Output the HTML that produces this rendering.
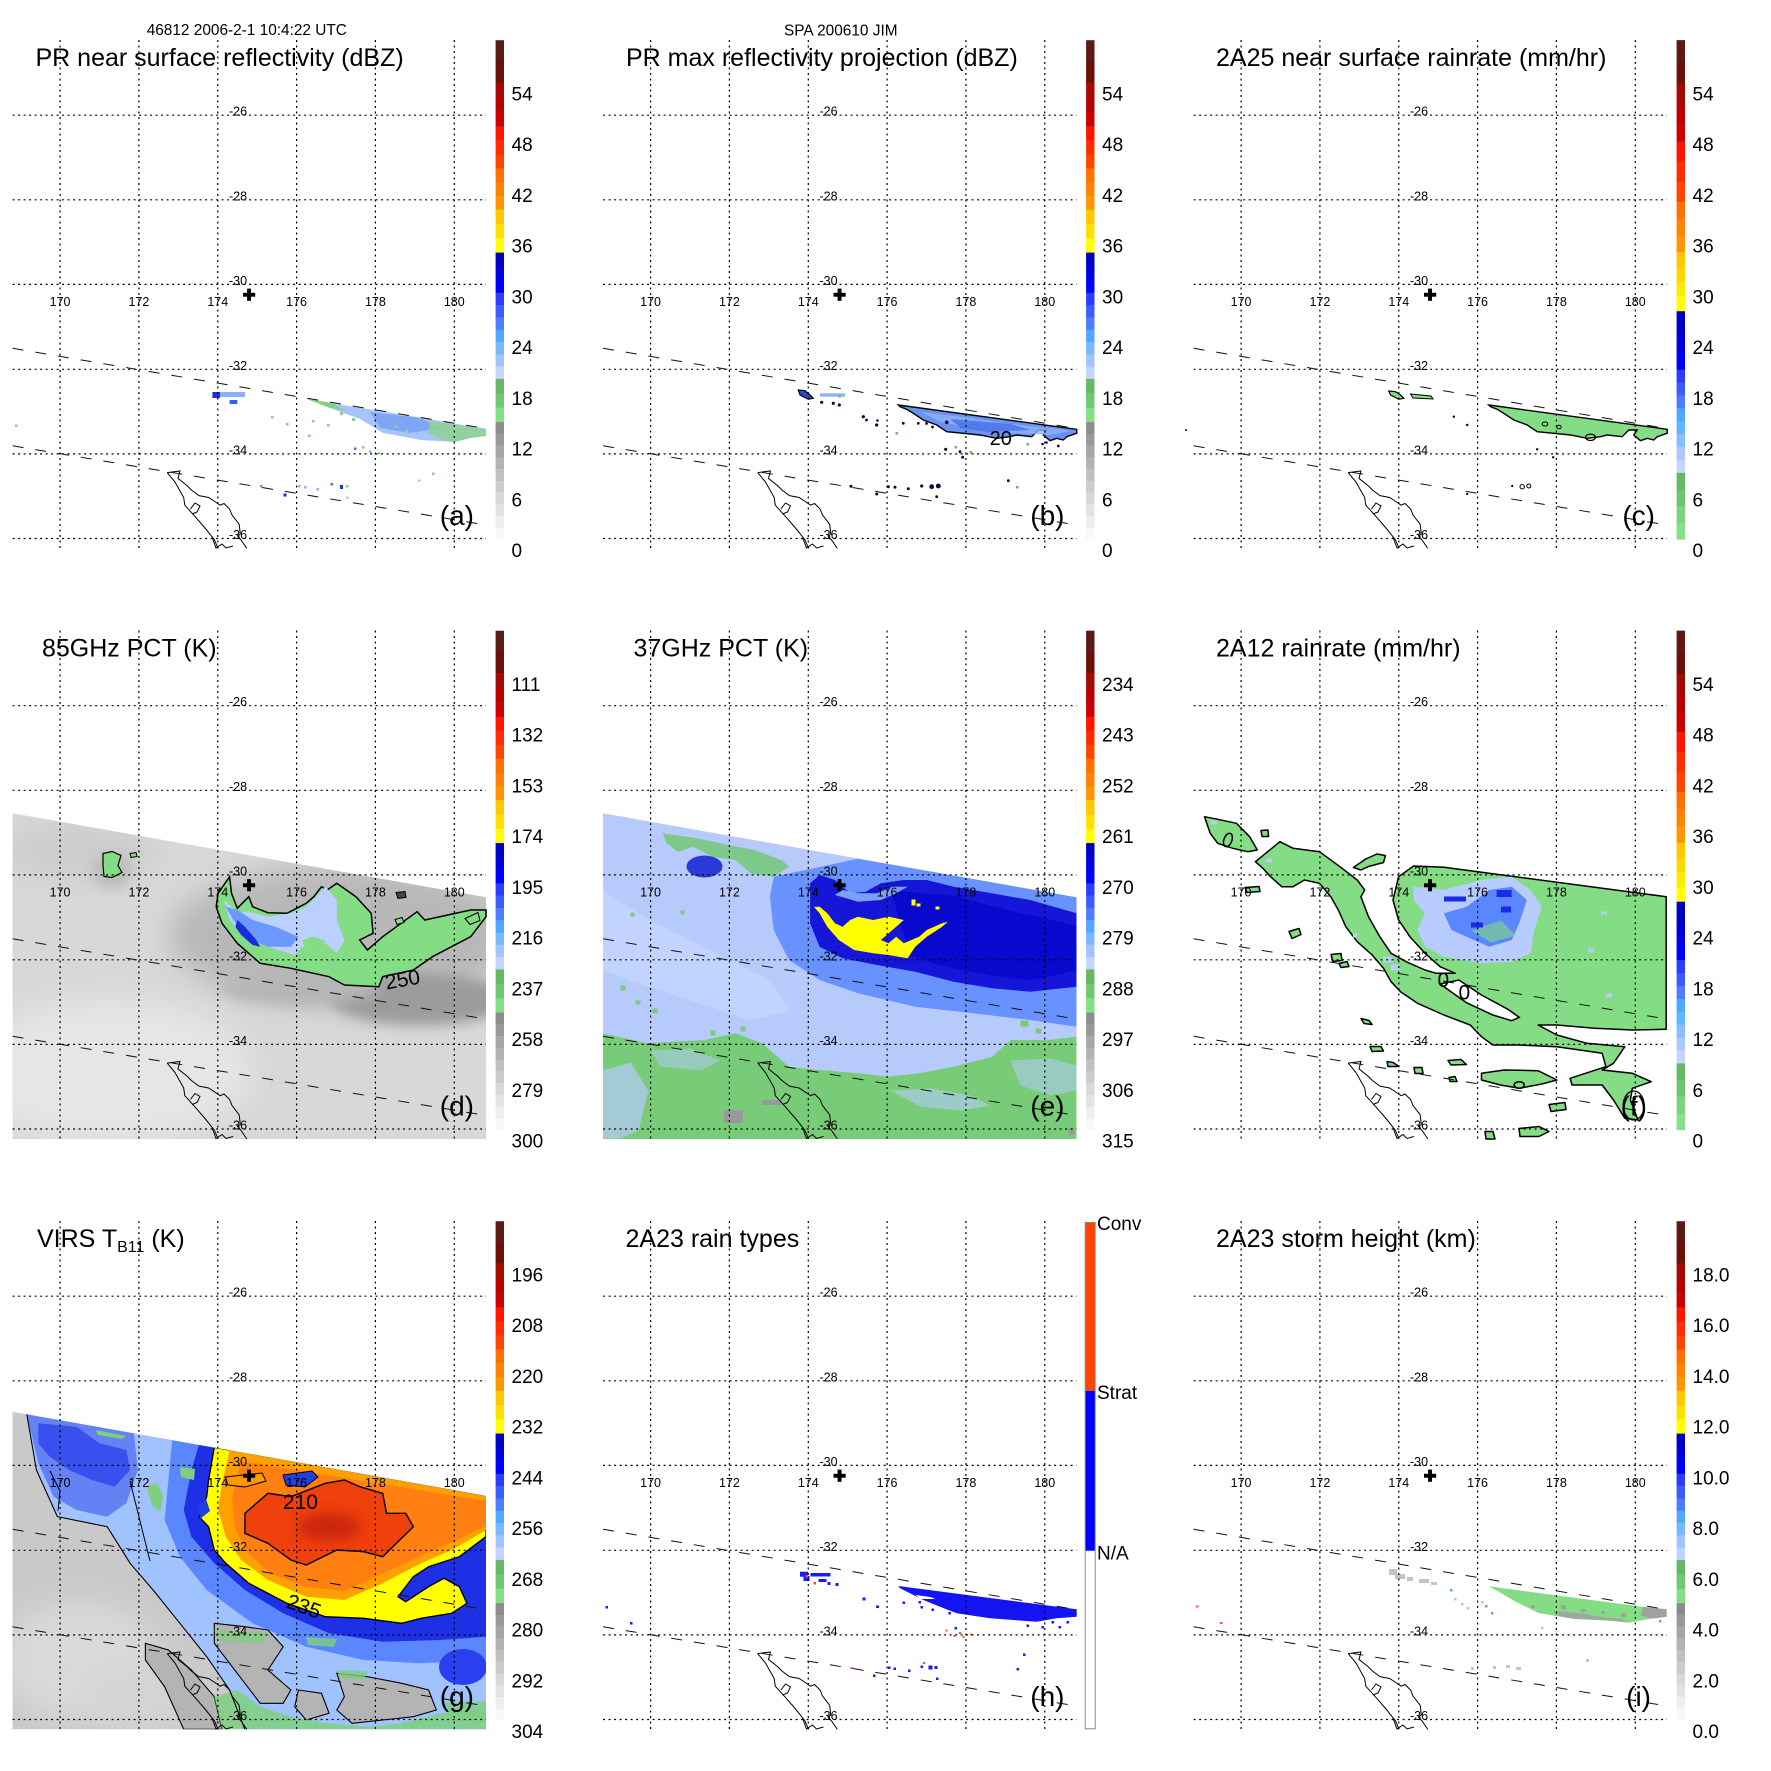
<!DOCTYPE html>
<html><head><meta charset="utf-8"><style>html,body{margin:0;padding:0;background:#fff}svg{display:block}</style></head><body>
<svg xmlns="http://www.w3.org/2000/svg" xmlns:xlink="http://www.w3.org/1999/xlink" width="1771" height="1771" viewBox="0 0 1771 1771" font-family="'Liberation Sans', Arial, Helvetica, sans-serif">
<defs>
<g id="grid" fill="none" stroke="#000" stroke-width="1.2" stroke-dasharray="2 3.5">
<path d="M60.1 40V548.5M138.9 40V548.5M217.8 40V548.5M296.6 40V548.5M375.4 40V548.5M454.3 40V548.5M12.6 115.2H486M12.6 199.8H486M12.6 284.4H486M12.6 369.3H486M12.6 453.9H486M12.6 538.5H486"/>
</g>
<path id="swath" d="M12.6 348.3L486 428.6M12.6 445.8L486 525" fill="none" stroke="#111" stroke-width="1" stroke-dasharray="11 12"/>
<g id="nz" fill="none" stroke="#000" stroke-width="1">
<polyline points="167.2,472.6 175,482 183.7,497.5 184.8,505.2 195.2,516.7 205,528 214.3,539.6 218.1,548.4"/>
<polyline points="167.2,472.6 179.9,471 178,478.4 187.5,486 191.4,490 199,495.6 208.6,497.5 214,501 220.1,505.2 224,503.5 229.6,509 232,515 239.2,524.3 240.3,533.9 237.5,536 241.1,540 246.8,548.4"/>
<polyline points="190.4,509 195,503 200,506 197,512 192,514"/>
<polyline points="212,537 216,548 222,544 226,548 233,546"/>
</g>
<g id="cross" fill="#000"><rect x="243" y="292.8" width="12.2" height="3.9"/><rect x="247.1" y="288.6" width="3.9" height="12.2"/></g>
<g id="cbA">
<rect x="495.6" y="40.2" width="8.4" height="21.4" fill="#5b1a14"/>
<rect x="495.6" y="61.3" width="8.4" height="21.3" fill="#6b0f08"/>
<rect x="495.6" y="82.3" width="8.4" height="15" fill="#a40a00"/>
<rect x="495.6" y="97" width="8.4" height="14.9" fill="#b80000"/>
<rect x="495.6" y="111.6" width="8.4" height="15" fill="#cc0000"/>
<rect x="495.6" y="126.3" width="8.4" height="14.3" fill="#ff1400"/>
<rect x="495.6" y="140.3" width="8.4" height="14.4" fill="#ff2c00"/>
<rect x="495.6" y="154.4" width="8.4" height="14.3" fill="#ff4400"/>
<rect x="495.6" y="168.4" width="8.4" height="14.1" fill="#ff7000"/>
<rect x="495.6" y="182.2" width="8.4" height="14.1" fill="#ff8200"/>
<rect x="495.6" y="196" width="8.4" height="14" fill="#ff9600"/>
<rect x="495.6" y="209.7" width="8.4" height="14.6" fill="#ffc800"/>
<rect x="495.6" y="224" width="8.4" height="14.6" fill="#ffe000"/>
<rect x="495.6" y="238.3" width="8.4" height="14.6" fill="#ffff00"/>
<rect x="495.6" y="252.6" width="8.4" height="13.7" fill="#0000c4"/>
<rect x="495.6" y="266" width="8.4" height="13.7" fill="#0000dc"/>
<rect x="495.6" y="279.4" width="8.4" height="13.7" fill="#0000ff"/>
<rect x="495.6" y="292.8" width="8.4" height="12.6" fill="#2a3cff"/>
<rect x="495.6" y="305.1" width="8.4" height="12.6" fill="#3c5cff"/>
<rect x="495.6" y="317.4" width="8.4" height="12.6" fill="#4c7cff"/>
<rect x="495.6" y="329.7" width="8.4" height="12.6" fill="#50a8ff"/>
<rect x="495.6" y="342" width="8.4" height="12.6" fill="#78b8ff"/>
<rect x="495.6" y="354.3" width="8.4" height="12.6" fill="#a0c4ff"/>
<rect x="495.6" y="366.6" width="8.4" height="12.6" fill="#c4d4ff"/>
<rect x="495.6" y="378.9" width="8.4" height="14.7" fill="#66b866"/>
<rect x="495.6" y="393.3" width="8.4" height="14.7" fill="#70c870"/>
<rect x="495.6" y="407.7" width="8.4" height="14.7" fill="#84e084"/>
<rect x="495.6" y="422.1" width="8.4" height="12" fill="#8c8c8c"/>
<rect x="495.6" y="433.85" width="8.4" height="12" fill="#999"/>
<rect x="495.6" y="445.6" width="8.4" height="12" fill="#a6a6a6"/>
<rect x="495.6" y="457.35" width="8.4" height="12" fill="#b3b3b3"/>
<rect x="495.6" y="469.1" width="8.4" height="12" fill="#c0c0c0"/>
<rect x="495.6" y="480.85" width="8.4" height="12" fill="#ccc"/>
<rect x="495.6" y="492.6" width="8.4" height="12" fill="#d8d8d8"/>
<rect x="495.6" y="504.35" width="8.4" height="12" fill="#e3e3e3"/>
<rect x="495.6" y="516.1" width="8.4" height="12" fill="#eee"/>
<rect x="495.6" y="527.85" width="8.4" height="11.75" fill="#f8f8f8"/>
</g>
<g id="cbC">
<rect x="495.6" y="40.1" width="8.4" height="22" fill="#5b1a14"/>
<rect x="495.6" y="61.8" width="8.4" height="21.9" fill="#6b0f08"/>
<rect x="495.6" y="83.4" width="8.4" height="19.7" fill="#a40a00"/>
<rect x="495.6" y="102.8" width="8.4" height="19.7" fill="#b80000"/>
<rect x="495.6" y="122.2" width="8.4" height="19.6" fill="#cc0000"/>
<rect x="495.6" y="141.5" width="8.4" height="20.4" fill="#ff1400"/>
<rect x="495.6" y="161.6" width="8.4" height="20.4" fill="#ff2c00"/>
<rect x="495.6" y="181.7" width="8.4" height="20.3" fill="#ff4400"/>
<rect x="495.6" y="201.7" width="8.4" height="17.2" fill="#ff7000"/>
<rect x="495.6" y="218.6" width="8.4" height="17.2" fill="#ff8200"/>
<rect x="495.6" y="235.5" width="8.4" height="17.2" fill="#ff9600"/>
<rect x="495.6" y="252.4" width="8.4" height="15" fill="#ffc800"/>
<rect x="495.6" y="267.1" width="8.4" height="15" fill="#ffd800"/>
<rect x="495.6" y="281.8" width="8.4" height="15" fill="#ffea00"/>
<rect x="495.6" y="296.5" width="8.4" height="15" fill="#ffff00"/>
<rect x="495.6" y="311.2" width="8.4" height="19.8" fill="#0000c4"/>
<rect x="495.6" y="330.7" width="8.4" height="19.8" fill="#0000dc"/>
<rect x="495.6" y="350.2" width="8.4" height="19.8" fill="#0000ff"/>
<rect x="495.6" y="369.7" width="8.4" height="13.2" fill="#2a3cff"/>
<rect x="495.6" y="382.6" width="8.4" height="13.2" fill="#3c5cff"/>
<rect x="495.6" y="395.5" width="8.4" height="13.2" fill="#4c7cff"/>
<rect x="495.6" y="408.4" width="8.4" height="13.2" fill="#4ca8ff"/>
<rect x="495.6" y="421.3" width="8.4" height="13.2" fill="#64b4ff"/>
<rect x="495.6" y="434.2" width="8.4" height="13.2" fill="#88c0ff"/>
<rect x="495.6" y="447.1" width="8.4" height="13.2" fill="#a8c8ff"/>
<rect x="495.6" y="460" width="8.4" height="12.8" fill="#c8d4ff"/>
<rect x="495.6" y="472.8" width="8.4" height="17" fill="#66b866"/>
<rect x="495.6" y="489.5" width="8.4" height="17" fill="#70c470"/>
<rect x="495.6" y="506.2" width="8.4" height="17" fill="#7cd47c"/>
<rect x="495.6" y="522.9" width="8.4" height="16.8" fill="#88e088"/>
</g>
<clipPath id="swd"><polygon points="12.6,222.8 486,306.8 486,548.5 12.6,548.5"/></clipPath>
<clipPath id="swg"><polygon points="12.6,230.7 486,315 486,548.3 12.6,548.3"/></clipPath>
<filter id="bl" x="-50%" y="-50%" width="200%" height="200%"><feGaussianBlur stdDeviation="14"/></filter>
<filter id="bl2" x="-50%" y="-50%" width="200%" height="200%"><feGaussianBlur stdDeviation="6"/></filter>
</defs>

<rect width="1771" height="1771" fill="#fff"/>
<text x="246.8" y="35" font-size="15.4" text-anchor="middle">46812 2006-2-1 10:4:22 UTC</text>
<text x="840.8" y="35.5" font-size="15.4" text-anchor="middle">SPA 200610 JIM</text>

<!-- ================= PANEL A ================= -->
<g transform="translate(0,0)">
<polygon points="306,398.6 340,404.5 380,411 420,417.5 460,424.5 486,428.6 486,436 470,438 455,442 421,440 400,436 383,433 360,419 330,408" fill="#a8c4fa"/>
<polygon points="306,398.6 330,402.8 345,410 330,408" fill="#80d080"/>
<polygon points="370,412 420,418 440,428 410,433 380,428" fill="#7ea6f4"/>
<polygon points="430,421 486,429 486,436 470,438 455,442 440,439 428,433" fill="#8ed28e" opacity="0.85"/>
<g fill="#84d484"><rect x="340" y="412" width="3" height="3"/><rect x="352" y="418" width="3" height="3"/><rect x="395" y="425" width="3" height="3"/><rect x="405" y="430" width="3" height="3"/><rect x="15" y="424.5" width="2.5" height="2.5"/><rect x="271" y="416" width="2.5" height="2.5"/><rect x="308" y="434.5" width="2.5" height="2.5"/><rect x="312" y="420" width="2.5" height="2.5"/><rect x="327" y="424" width="2.5" height="2.5"/><rect x="362" y="446" width="2.5" height="2.5"/><rect x="378" y="452" width="2.5" height="2.5"/><rect x="432" y="472.5" width="2.5" height="2.5"/><rect x="346" y="485" width="2.5" height="2.5"/></g>
<g fill="#4a70f0"><rect x="212.4" y="392" width="7.6" height="6" fill="#2030d8"/><rect x="220" y="392" width="25" height="5" fill="#8cb0f8"/><rect x="229.6" y="400" width="7.7" height="4" fill="#3a5cf0"/><rect x="286" y="423" width="2.5" height="2.5" fill="#8cb0f8"/><rect x="354" y="447.5" width="2.5" height="2.5"/><rect x="369" y="450.5" width="2.5" height="2.5" fill="#8cb0f8"/><rect x="418" y="479.5" width="2.5" height="2.5" fill="#b0c8fa"/><rect x="260" y="485" width="2.5" height="2.5" fill="#6a90f4"/><rect x="283.5" y="493.5" width="3" height="3" fill="#1a2ae0"/><rect x="298" y="485" width="2.5" height="2.5" fill="#8cb0f8"/><rect x="304" y="486" width="2.5" height="2.5" fill="#8cb0f8"/><rect x="316.5" y="488" width="2.5" height="2.5" fill="#8cb0f8"/><rect x="330.5" y="483" width="2.5" height="2.5"/><rect x="340" y="485" width="3" height="4" fill="#2030d8"/><rect x="346" y="496.5" width="2.5" height="2.5" fill="#b0c8fa"/></g>
<use href="#grid" xlink:href="#grid"/>
<use href="#swath" xlink:href="#swath"/>
<use href="#nz" xlink:href="#nz"/>
<use href="#cross" xlink:href="#cross"/>
<g font-size="12.5"><text x="229" y="115.7">-26</text><text x="229" y="200.3">-28</text><text x="229" y="284.9">-30</text><text x="229" y="369.8">-32</text><text x="229" y="454.4">-34</text><text x="229" y="539">-36</text></g>
<g font-size="12.5" text-anchor="middle"><text x="60.1" y="306">170</text><text x="138.9" y="306">172</text><text x="217.8" y="306">174</text><text x="296.6" y="306">176</text><text x="375.4" y="306">178</text><text x="454.3" y="306">180</text></g>
<text x="35.5" y="66" font-size="25">PR near surface reflectivity (dBZ)</text>
<text x="474" y="525" font-size="28" text-anchor="end">(a)</text>
<use href="#cbA" xlink:href="#cbA"/>
<g font-size="19"><text x="511.5" y="100.5">54</text><text x="511.5" y="151.2">48</text><text x="511.5" y="201.9">42</text><text x="511.5" y="252.7">36</text><text x="511.5" y="303.4">30</text><text x="511.5" y="354.1">24</text><text x="511.5" y="404.8">18</text><text x="511.5" y="455.5">12</text><text x="511.5" y="506.3">6</text><text x="511.5" y="557">0</text></g>
</g>

<!-- ================= PANEL B ================= -->
<g transform="translate(590.5,0)">
<polygon points="307.8,405 486.2,429.3 486.2,433.3 476.2,436.7 472.8,440 466.2,438.3 459.5,440.7 452.8,435 456.2,430 447.8,430 441.2,436.7 426.2,435 419.5,436.7 406.2,438.3 389.5,435 372.8,433.3 356.2,431.7 346.2,425 332.8,420 322.8,413.3 316.2,409.3 309.5,406.7" fill="#6893f2" stroke="#000" stroke-width="1.4"/>
<polygon points="330,412 380,418 420,424 460,428 480,431 460,435 420,433 380,428 350,422" fill="#90b2f8" opacity="0.8"/>
<polygon points="360,419 420,424 440,430 400,432 370,428" fill="#3e66e6" opacity="0.7"/>
<polygon points="207.8,390 214.5,390.7 219.5,395 222.8,398.3 217.8,399.3 212.8,396.7 209.5,395" fill="#2b45d8" stroke="#000" stroke-width="1.2"/>
<rect x="229.5" y="393.3" width="25" height="3.4" fill="#8fb2f8"/>
<g fill="#0a0a40"><circle cx="231.2" cy="402.3" r="1.6"/><circle cx="242.8" cy="403.3" r="1.6"/><circle cx="248.8" cy="405" r="1.6"/><circle cx="272.8" cy="416.7" r="1.6"/><circle cx="276" cy="420" r="1.4"/><circle cx="286.2" cy="425" r="1.6"/><circle cx="287" cy="420.5" r="1.3"/><circle cx="312.8" cy="423.3" r="1.4"/><circle cx="327.8" cy="423.3" r="1.4"/><circle cx="336" cy="423.5" r="1.4"/><circle cx="342" cy="427" r="1.4"/><circle cx="356.2" cy="422.3" r="1.8"/><circle cx="355.2" cy="449.3" r="1.6"/><circle cx="369.5" cy="451.7" r="1.4"/><circle cx="372.2" cy="457.3" r="1.5"/><circle cx="260.5" cy="486.3" r="1.5"/><circle cx="286.2" cy="494" r="1.5"/><circle cx="297.8" cy="486.7" r="1.5"/><circle cx="304.5" cy="487.3" r="1.5"/><circle cx="317.8" cy="488.7" r="1.5"/><circle cx="331.2" cy="486" r="1.6"/><circle cx="341.2" cy="486.7" r="2.4"/><circle cx="347.8" cy="486" r="2.4"/><circle cx="346.2" cy="496.7" r="1.4"/><circle cx="417.8" cy="480.7" r="1.4"/><circle cx="467.8" cy="446" r="1.4"/><circle cx="452" cy="444" r="1.3"/><circle cx="456" cy="442.5" r="1.3"/></g>
<g fill="#5cc05c"><rect x="305" y="432" width="2.5" height="2.5"/><rect x="364" y="446" width="2.5" height="2.5"/><rect x="379" y="451" width="2.5" height="2.5"/><rect x="425.5" y="486" width="2.5" height="2.5"/><rect x="436" y="443" width="2.5" height="2.5"/><rect x="248" y="395" width="2.5" height="2.5"/></g>
<text x="410.3" y="445" font-size="20" text-anchor="middle">20</text>
<use href="#grid" xlink:href="#grid"/>
<use href="#swath" xlink:href="#swath"/>
<use href="#nz" xlink:href="#nz"/>
<use href="#cross" xlink:href="#cross"/>
<g font-size="12.5"><text x="229" y="115.7">-26</text><text x="229" y="200.3">-28</text><text x="229" y="284.9">-30</text><text x="229" y="369.8">-32</text><text x="229" y="454.4">-34</text><text x="229" y="539">-36</text></g>
<g font-size="12.5" text-anchor="middle"><text x="60.1" y="306">170</text><text x="138.9" y="306">172</text><text x="217.8" y="306">174</text><text x="296.6" y="306">176</text><text x="375.4" y="306">178</text><text x="454.3" y="306">180</text></g>
<text x="35.5" y="66" font-size="25">PR max reflectivity projection (dBZ)</text>
<text x="474" y="525" font-size="28" text-anchor="end">(b)</text>
<use href="#cbA" xlink:href="#cbA"/>
<g font-size="19"><text x="511.5" y="100.5">54</text><text x="511.5" y="151.2">48</text><text x="511.5" y="201.9">42</text><text x="511.5" y="252.7">36</text><text x="511.5" y="303.4">30</text><text x="511.5" y="354.1">24</text><text x="511.5" y="404.8">18</text><text x="511.5" y="455.5">12</text><text x="511.5" y="506.3">6</text><text x="511.5" y="557">0</text></g>
</g>

<!-- ================= PANEL C ================= -->
<g transform="translate(1181,0)">
<polygon points="307.8,405 486.2,429.3 486.2,433.3 476.2,436.7 472.8,440 466.2,438.3 459.5,440.7 452.8,435 456.2,430 447.8,430 441.2,436.7 426.2,435 419.5,436.7 406.2,438.3 389.5,435 372.8,433.3 356.2,431.7 346.2,425 332.8,420 322.8,413.3 316.2,409.3 309.5,406.7" fill="#84dc84" stroke="#000" stroke-width="1.4"/>
<ellipse cx="409.5" cy="437.3" rx="5" ry="3.2" fill="none" stroke="#000" stroke-width="1.2"/>
<ellipse cx="364" cy="424" rx="2.8" ry="2" fill="none" stroke="#000" stroke-width="1"/>
<ellipse cx="378" cy="427" rx="2.2" ry="1.8" fill="none" stroke="#000" stroke-width="1"/>
<polygon points="207.8,391 214.5,391.7 219.5,395 222.8,398.3 217.8,399.3 212.8,396.7 209.5,395" fill="#84dc84" stroke="#000" stroke-width="1.2"/>
<polygon points="229.5,394 250,396 252,399 232,398" fill="#84dc84" stroke="#000" stroke-width="1"/>
<g fill="#000"><circle cx="272.8" cy="416.7" r="1.2"/><circle cx="286.2" cy="425" r="1.2"/><circle cx="356.2" cy="449.3" r="1.2"/><circle cx="372.2" cy="457.3" r="1.2"/><circle cx="286.2" cy="494" r="1.1"/><circle cx="331.2" cy="486" r="1.1"/><circle cx="341.2" cy="486.7" r="2.2" fill="none" stroke="#000"/><circle cx="347.8" cy="486" r="2" fill="none" stroke="#000"/><circle cx="5" cy="430" r="1"/></g>
<use href="#grid" xlink:href="#grid"/>
<use href="#swath" xlink:href="#swath"/>
<use href="#nz" xlink:href="#nz"/>
<use href="#cross" xlink:href="#cross"/>
<g font-size="12.5"><text x="229" y="115.7">-26</text><text x="229" y="200.3">-28</text><text x="229" y="284.9">-30</text><text x="229" y="369.8">-32</text><text x="229" y="454.4">-34</text><text x="229" y="539">-36</text></g>
<g font-size="12.5" text-anchor="middle"><text x="60.1" y="306">170</text><text x="138.9" y="306">172</text><text x="217.8" y="306">174</text><text x="296.6" y="306">176</text><text x="375.4" y="306">178</text><text x="454.3" y="306">180</text></g>
<text x="35" y="66" font-size="25">2A25 near surface rainrate (mm/hr)</text>
<text x="474" y="525" font-size="28" text-anchor="end">(c)</text>
<use href="#cbC" xlink:href="#cbC"/>
<g font-size="19"><text x="511.5" y="100.5">54</text><text x="511.5" y="151.2">48</text><text x="511.5" y="201.9">42</text><text x="511.5" y="252.7">36</text><text x="511.5" y="303.4">30</text><text x="511.5" y="354.1">24</text><text x="511.5" y="404.8">18</text><text x="511.5" y="455.5">12</text><text x="511.5" y="506.3">6</text><text x="511.5" y="557">0</text></g>
</g>

<!-- ================= PANEL D ================= -->
<g transform="translate(0,590.5)">
<g clip-path="url(#swd)">
<rect x="12" y="220" width="475" height="330" fill="#d8d8d8"/>
<ellipse cx="110" cy="480" rx="140" ry="70" fill="#e6e6e6" filter="url(#bl)"/>
<ellipse cx="80" cy="260" rx="80" ry="30" fill="#cdcdcd" filter="url(#bl)"/>
<ellipse cx="344" cy="345" rx="175" ry="70" fill="#b8b8b8" filter="url(#bl)"/>
<ellipse cx="421" cy="409" rx="90" ry="26" fill="#9c9c9c" filter="url(#bl2)"/>
<ellipse cx="300" cy="398" rx="80" ry="16" fill="#b6b6b6" filter="url(#bl2)"/>
<ellipse cx="112" cy="280" rx="20" ry="18" fill="#bcbcbc" filter="url(#bl2)"/>
</g>
<polygon points="229.6,286.2 218.1,302.8 216.2,316.2 222,332.8 237.3,352.8 260.2,372.8 290.9,377.8 329.1,386.2 344.4,394.5 378.9,396.2 382.7,386.2 413.3,379.5 432.5,366.2 470.7,346.2 486,326.2 486,319.5 470.7,319.5 424.8,329.5 417.1,321.2 382.7,346.2 367.4,359.5 359.7,349.5 373.1,342.8 371.2,322.8 355.9,306.2 336.8,292.8 327.2,299.5 321.5,296.2 313.8,306.2 306.2,312.8 287,322.8 267.9,322.2 252.6,316.2 248.8,306.2 237.3,317.8 231.5,302.8" fill="#84dc84" stroke="#000" stroke-width="1.5"/>
<polygon points="223.9,309.5 229.6,329.5 244.9,346.2 267.9,356.2 294.7,364.5 302.3,356.2 325.3,352.8 336.8,362.8 344.4,349.5 336.8,329.5 336.8,309.5 325.3,296.2 317.6,304.5 306.2,316.2 290.9,322.8 267.9,326.2 248.8,321.2 237.3,321.2" fill="#bcd0ff"/>
<polygon points="225.8,316.2 233.4,329.5 244.9,346.2 267.9,356.2 290.9,356.2 298.5,346.2 275.5,336.2 252.6,329.5 237.3,319.5" fill="#6a98ff"/>
<polygon points="237.3,329.5 244.9,336.2 256.4,349.5 260.2,356.2 252.6,354.5 241.1,344.5 235.4,336.2" fill="#1a2ce0"/>
<polygon points="302,350 312,346 325,350 322,358 306,358" fill="#84dc84"/>
<polygon points="103,263 112,261 121,265 118,275 122,282 112,287 104,286 103,275" fill="#84dc84" stroke="#000" stroke-width="1.2"/>
<polygon points="130,263 136,262 137,266 131,267" fill="#84dc84" stroke="#000" stroke-width="1"/>
<polygon points="396,302 405,301 406,307 398,308" fill="#444" stroke="#000" stroke-width="1"/>
<polygon points="395,329 402,327 404,332 397,334" fill="#84dc84" stroke="#000" stroke-width="1"/>
<polygon points="465,328 478,322 480,330 470,334" fill="#84dc84" stroke="#000" stroke-width="1"/>
<text x="0" y="0" font-size="21" text-anchor="middle" transform="translate(403.7,396) rotate(-10)">250</text>
<use href="#grid" xlink:href="#grid"/>
<use href="#swath" xlink:href="#swath"/>
<use href="#nz" xlink:href="#nz"/>
<use href="#cross" xlink:href="#cross"/>
<g font-size="12.5"><text x="229" y="115.7">-26</text><text x="229" y="200.3">-28</text><text x="229" y="284.9">-30</text><text x="229" y="369.8">-32</text><text x="229" y="454.4">-34</text><text x="229" y="539">-36</text></g>
<g font-size="12.5" text-anchor="middle"><text x="60.1" y="306">170</text><text x="138.9" y="306">172</text><text x="217.8" y="306">174</text><text x="296.6" y="306">176</text><text x="375.4" y="306">178</text><text x="454.3" y="306">180</text></g>
<text x="42" y="66" font-size="25">85GHz PCT (K)</text>
<text x="474" y="525" font-size="28" text-anchor="end">(d)</text>
<use href="#cbA" xlink:href="#cbA"/>
<g font-size="19"><text x="511.5" y="100.5">111</text><text x="511.5" y="151.2">132</text><text x="511.5" y="201.9">153</text><text x="511.5" y="252.7">174</text><text x="511.5" y="303.4">195</text><text x="511.5" y="354.1">216</text><text x="511.5" y="404.8">237</text><text x="511.5" y="455.5">258</text><text x="511.5" y="506.3">279</text><text x="511.5" y="557">300</text></g>
</g>

<!-- ================= PANEL E ================= -->
<g transform="translate(590.5,590.5)">
<g clip-path="url(#swd)">
<rect x="12" y="220" width="475" height="330" fill="#b6cafc"/>
<polygon points="12,300 60,330 120,360 180,390 200,420 160,430 100,410 40,390 12,380" fill="#c6d4ff" opacity="0.8"/>
<polygon points="183.2,286.2 267.4,268.2 486,306.8 486,436.2 439.6,429.5 382.2,422.8 324.8,416.2 267.4,402.8 229.1,389.5 198.5,369.5 183.2,339.5 179.4,306.2" fill="#6892ff"/>
<polygon points="219.6,292.8 229.1,284.5 244.4,289.5 259.7,302.8 275.1,301.2 290.4,292.8 313.3,289.5 336.3,289.5 363.1,296.2 401.3,302.8 439.7,309.5 486,322.8 486,396.2 439.7,401.2 401.3,397.8 363.1,391.2 324.8,381.2 286.5,374.5 252.1,367.8 229.1,356.2 219.6,332.8" fill="#1616d8"/>
<polygon points="300,300 360,305 420,320 486,335 486,380 440,390 400,385 350,375 320,365" fill="#0000c8" opacity="0.6"/>
<polygon points="244.4,304.5 267.4,311.2 290.4,309.5 305.7,302.8 317.1,296.2 301.8,296.2 286.5,302.8 267.4,302.8 252.1,299.5" fill="#7aa0ff"/>
<polygon points="223.4,316.2 229.1,322.8 236.8,336.2 248.3,349.5 263.6,359.5 282.7,362.8 298,364.5 317.1,367.8 324.8,356.2 336.3,346.2 351.6,336.2 357.3,331.2 351.6,332.8 336.3,339.5 328.6,346.2 313.3,352.8 305.7,346.2 298,352.8 290.4,349.5 305.7,336.2 313.3,329.5 298,326.2 282.7,329.5 267.4,326.2 259.7,329.5 252.1,336.2 244.4,332.8 236.8,322.8 229.1,316.2" fill="#ffff00"/>
<rect x="321" y="309" width="4" height="6" fill="#ffff00"/><rect x="326" y="313" width="4" height="3" fill="#ffff00"/><rect x="345" y="316" width="4" height="3" fill="#ffff00"/>
<ellipse cx="114" cy="276" rx="18" ry="11" fill="#2a3ad8"/>
<polygon points="72.2,242.8 106.7,247.8 137.3,254.5 164.1,259.5 190.9,269.5 198.5,276.2 183.2,286.2 160.2,282.8 144.9,269.5 122,266.2 102.8,256.2 87.5,261.2 76,252.8" fill="#74c874" opacity="0.85"/>
<polygon points="12.1,442.8 56.9,452.8 114.3,449.5 144.9,442.8 171.7,452.8 198.5,476.2 229.1,479.5 267.4,482.8 298,486.2 328.6,482.8 363.1,476.2 401.3,466.2 420.5,449.5 458.8,449.5 486,446.2 486,548.5 12.1,548.5" fill="#78cc78"/>
<polygon points="12,480 40,472 58,500 48,540 30,548 12,548" fill="#b6cafc" opacity="0.7"/>
<polygon points="300,500 340,498 380,505 400,515 370,520 330,516" fill="#b6cafc" opacity="0.6"/>
<polygon points="420,470 460,468 486,475 486,500 460,505 430,495" fill="#b6cafc" opacity="0.55"/>
<polygon points="60,460 100,458 130,470 110,480 70,476" fill="#b6cafc" opacity="0.5"/>
<g fill="#78cc78"><rect x="30" y="395" width="5" height="5"/><rect x="45" y="410" width="5" height="4"/><rect x="62" y="418" width="5" height="5"/><rect x="90" y="320" width="4" height="4"/><rect x="40" y="322" width="4" height="4"/><rect x="120" y="440" width="5" height="5"/><rect x="150" y="436" width="5" height="5"/><rect x="430" y="430" width="8" height="6"/><rect x="445" y="438" width="6" height="5"/></g>
<rect x="133.5" y="519.5" width="19" height="13" fill="#999"/>
<rect x="171.7" y="509.5" width="19" height="5" fill="#999"/>
<rect x="478" y="538" width="6" height="6" fill="#999"/>
</g>
<use href="#grid" xlink:href="#grid"/>
<use href="#swath" xlink:href="#swath"/>
<use href="#nz" xlink:href="#nz"/>
<use href="#cross" xlink:href="#cross"/>
<g font-size="12.5"><text x="229" y="115.7">-26</text><text x="229" y="200.3">-28</text><text x="229" y="284.9">-30</text><text x="229" y="369.8">-32</text><text x="229" y="454.4">-34</text><text x="229" y="539">-36</text></g>
<g font-size="12.5" text-anchor="middle"><text x="60.1" y="306">170</text><text x="138.9" y="306">172</text><text x="217.8" y="306">174</text><text x="296.6" y="306">176</text><text x="375.4" y="306">178</text><text x="454.3" y="306">180</text></g>
<text x="43" y="66" font-size="25">37GHz PCT (K)</text>
<text x="474" y="525" font-size="28" text-anchor="end">(e)</text>
<use href="#cbA" xlink:href="#cbA"/>
<g font-size="19"><text x="511.5" y="100.5">234</text><text x="511.5" y="151.2">243</text><text x="511.5" y="201.9">252</text><text x="511.5" y="252.7">261</text><text x="511.5" y="303.4">270</text><text x="511.5" y="354.1">279</text><text x="511.5" y="404.8">288</text><text x="511.5" y="455.5">297</text><text x="511.5" y="506.3">306</text><text x="511.5" y="557">315</text></g>
</g>

<!-- ================= PANEL F ================= -->
<g transform="translate(1181,590.5)">
<g fill="#84dc84" stroke="#000" stroke-width="1.5" stroke-linejoin="round">
<polygon points="74.4,271.2 98.9,251.2 112.1,257.8 138.5,261.2 161.1,277.8 176.2,289.5 183.7,299.5 179.9,306.2 187.5,326.2 198.8,346.2 210.1,362.8 225.2,371.2 244,379.5 255.3,382.8 274.2,382.8 259.1,376.2 244,362.8 228.9,346.2 217.6,329.5 212,309.5 217.6,286.2 232.7,275.5 262.9,276.8 485.2,306.2 485.2,438.8 451.3,439.5 413.6,437.8 375.9,434.5 357.1,434.5 375.9,444.5 406.1,452.8 443.8,456.2 432.5,472.8 421.2,479.5 451.3,482.8 470.2,491.2 451.3,497.8 449.4,509.5 457,529.5 443.8,527.8 432.5,509.5 421.2,494.5 391,494.5 389.1,487.8 424.9,476.2 421.2,462.8 375.9,456.2 338.2,454.5 311.9,454.5 300.5,446.2 289.2,434.5 262.9,424.5 236.5,412.8 219.5,401.2 210.1,391.2 202.5,377.8 191.2,364.5 176.2,351.2 164.8,336.2 157.3,319.5 149.8,306.2 138.5,292.8 123.4,289.5 112.1,296.2 100.8,296.2 89.5,286.2 81.9,277.8"/>
<polygon points="23.5,226.2 36.7,228.8 55.5,232.8 68.7,246.2 76.3,259.5 66.8,261.2 51.8,257.8 36.7,252.8 29.2,242.8"/>
<polygon points="80,240 87,239.5 87.5,246 81,246"/>
<polygon points="172.4,277 184.7,268.5 196,263.5 204.4,265 202.5,272 187.5,276 180,279.5"/>
<polygon points="108,341 118,338 120,344 111,348"/>
<polygon points="150,364 160,363 161,370 152,371"/>
<polygon points="180,428 188,430 191,434 183,433"/>
<polygon points="189,456 200,456 202.5,460.5 191,461"/>
<polygon points="206,471 212,472 218,476 207,476"/>
<polygon points="233,477 241,477 242,483 234,483"/>
<polygon points="267,470 280,469 285.5,474 270,474.5"/>
<polygon points="268,487 274,486 276,491 269,491"/>
<polygon points="300.5,482.8 323.2,479.5 357.1,480.2 375.9,489.5 360.9,493.5 338.2,497.8 319.4,494.5 300.5,489.5"/>
<polygon points="368,514 384,512 385,519 370,521"/>
<polygon points="338,538 358,536 368,541 358,546 339,546"/>
<polygon points="304,541 312,541 314,548.5 305,548.5"/>
<polygon points="158,373 166,371 168,376 160,377"/>
<polygon points="64,297 78,296 79,301 66,302"/>
</g>
<polygon points="259.1,393.5 277.9,389.5 300.5,404.5 326.9,418.8 338.2,426.8 330.7,430.2 311.9,424.5 285.5,412.2" fill="#fff" stroke="#000" stroke-width="1.5"/>
<polygon points="232.7,296.2 262.9,299.5 300.5,289.5 330.7,286.2 349.5,299.5 360.9,316.2 353.3,339.5 349.5,362.8 330.7,371.2 300.5,372.8 262.9,366.2 244,356.2 236.5,339.5 244,322.8 232.7,309.5" fill="#b8ccff"/>
<polygon points="262.9,322.8 285.5,316.2 308.1,299.5 330.7,296.2 345.8,309.5 338.2,332.8 330.7,349.5 308.1,356.2 285.5,346.2 270.4,339.5" fill="#5a86ff"/>
<polygon points="290,340 320,330 335,345 310,352" fill="#82dc82" opacity="0.6"/>
<g fill="#1a2ae8"><rect x="263" y="306" width="22" height="5"/><rect x="315.6" y="299.5" width="15" height="7"/><rect x="290" y="332" width="12" height="5"/><rect x="320" y="316" width="10" height="6"/></g>
<g fill="#b8ccff"><rect x="30" y="230" width="6" height="4"/><rect x="85" y="268" width="6" height="4"/><rect x="172" y="343" width="4" height="4"/><rect x="202" y="366" width="10" height="6"/><rect x="210" y="374" width="8" height="6"/><rect x="420" y="321" width="6" height="3"/><rect x="407" y="358" width="6" height="4"/><rect x="425" y="403" width="6" height="4"/></g>
<ellipse cx="46.9" cy="249.5" rx="4" ry="7" transform="rotate(20 46.9 249.5)" fill="none" stroke="#000" stroke-width="1.5"/>
<ellipse cx="338.2" cy="494.5" rx="5" ry="3.3" fill="none" stroke="#000" stroke-width="1.5"/>
<ellipse cx="452.7" cy="515" rx="10.5" ry="14.5" fill="none" stroke="#000" stroke-width="1.3"/>
<text x="262.3" y="396.5" font-size="21" text-anchor="middle">0</text>
<text x="283.3" y="409" font-size="21" text-anchor="middle">0</text>
<use href="#grid" xlink:href="#grid"/>
<use href="#swath" xlink:href="#swath"/>
<use href="#nz" xlink:href="#nz"/>
<use href="#cross" xlink:href="#cross"/>
<g font-size="12.5"><text x="229" y="115.7">-26</text><text x="229" y="200.3">-28</text><text x="229" y="284.9">-30</text><text x="229" y="369.8">-32</text><text x="229" y="454.4">-34</text><text x="229" y="539">-36</text></g>
<g font-size="12.5" text-anchor="middle"><text x="60.1" y="306">170</text><text x="138.9" y="306">172</text><text x="217.8" y="306">174</text><text x="296.6" y="306">176</text><text x="375.4" y="306">178</text><text x="454.3" y="306">180</text></g>
<text x="35" y="66" font-size="25">2A12 rainrate (mm/hr)</text>
<text x="466" y="525" font-size="28" text-anchor="end">(f)</text>
<use href="#cbC" xlink:href="#cbC"/>
<g font-size="19"><text x="511.5" y="100.5">54</text><text x="511.5" y="151.2">48</text><text x="511.5" y="201.9">42</text><text x="511.5" y="252.7">36</text><text x="511.5" y="303.4">30</text><text x="511.5" y="354.1">24</text><text x="511.5" y="404.8">18</text><text x="511.5" y="455.5">12</text><text x="511.5" y="506.3">6</text><text x="511.5" y="557">0</text></g>
</g>

<!-- ================= PANEL G ================= -->
<g transform="translate(0,1181)">
<g clip-path="url(#swg)">
<rect x="12" y="228" width="475" height="322" fill="#c9c9c9"/>
<ellipse cx="80" cy="480" rx="80" ry="60" fill="#d9d9d9" filter="url(#bl)"/>
<ellipse cx="150" cy="520" rx="60" ry="30" fill="#d4d4d4" filter="url(#bl)"/>
<polygon points="26.8,233.2 36.4,289 57.4,335.7 107.2,345.7 130.1,382.3 153.1,409 179.9,442.3 206.7,475.7 229.6,509 244.9,548.3 486,548.3 486,315 134,252.3" fill="#a0c2ff"/>
<polygon points="26.8,233.2 134,252.3 137.8,289 126.3,322.3 107.2,335.7 76.5,329 53.6,315.7 38.3,282.3" fill="#6482f4"/>
<polygon points="38.3,242.3 76.5,245.7 99.5,262.3 126.3,269 130.1,289 114.8,305.7 91.8,299 68.9,289 49.8,275.7 38.3,262.3" fill="#3a50ee"/>
<polygon points="172.2,259.1 164.6,339 179.9,375.7 206.7,409 252.6,442.3 306.2,465.7 363.6,479 421,482.3 486,479 486,315" fill="#5a86ff"/>
<polygon points="199,263.9 191.4,289 183.7,329 191.4,355.7 214.3,382.3 244.9,409 283.2,432.3 329.1,452.3 382.7,460.7 440.1,459 486,455.7 486,315" fill="#1e30e6"/>
<ellipse cx="463" cy="486" rx="24" ry="18" fill="#2a40f0"/>
<polygon points="214.3,266.3 486,315 486,355.7 459.3,375.7 428.6,385.7 413.3,395.7 398,415.7 405.7,420.7 428.6,405.7 443.9,397.3 459.3,405.7 466.9,422.3 451.7,432.3 421,437.3 401.8,442.3 363.6,437.3 325.3,435.7 287,422.3 248.8,402.3 225.8,382.3 214.3,369 208.6,345.7 199,335.7 206.7,315.7 208.6,299" fill="#ffff00" stroke="#000" stroke-width="1.3"/>
<polygon points="229.6,269.3 486,315 486,349 451.7,369 421,382.3 382.7,402.3 344.4,419 306.2,415.7 267.9,399 241.1,379 225.8,355.7 218.1,329 222,302.3" fill="#ffa000"/>
<polygon points="240,280 486,320 486,345 450,362 420,375 382,393 344,410 306,406 270,392 248,372 236,350 232,320" fill="#ff8010"/>
<polygon points="244.9,332.3 267.9,312.3 290.9,315.7 325.3,302.3 344.4,299 359.7,305.7 382.7,312.3 386.5,332.3 405.7,332.3 413.3,345.7 382.7,375.7 363.6,370.7 336.8,369 306.2,384 290.9,379 267.9,362.3 244.9,352.3" fill="#f0400c" stroke="#000" stroke-width="1.4"/>
<ellipse cx="329" cy="346" rx="32" ry="14" fill="#cc2808" filter="url(#bl2)"/>
<polygon points="283,294 312,290 318,296 305,306 286,304" fill="#2040e0" stroke="#000" stroke-width="1"/>
<polygon points="225,296 262,292 266,300 245,306 228,304" fill="#ff9800" stroke="#000" stroke-width="1"/>
<polygon points="198,325 206,318 210,330 200,338" fill="#2040e0"/>
<polygon points="145.4,462.3 168.4,469 191.4,489 214.3,515.7 222,548.3 183.7,548.3 164.6,505.7 145.4,479" fill="#b4b4b4" stroke="#000" stroke-width="1.1"/>
<polygon points="214.3,442.3 244.9,445.7 267.9,449 283.2,465.7 267.9,489 290.9,509 283.2,522.3 260.2,522.3 244.9,502.3 229.6,482.3 214.3,462.3" fill="#b4b4b4" stroke="#000" stroke-width="1.1"/>
<polygon points="336.8,492.3 367.4,495.7 401.8,502.3 428.6,509 436.3,529 413.3,535.7 382.7,539 352.1,542.3 336.8,529 344.4,515.7" fill="#b4b4b4" stroke="#000" stroke-width="1.1"/>
<polygon points="298.5,509 321.5,512.3 329.1,532.3 306.2,539 294.7,525.7" fill="#b4b4b4" stroke="#000" stroke-width="1.1"/>
<polygon points="214.3,515.7 237.3,509 260.2,525.7 290.9,535.7 329.1,542.3 367.4,545.7 401.8,542.3 440.1,532.3 486,529 486,548.3 222,548.3" fill="#7ed07e" opacity="0.85"/>
<polygon points="147,305 157,302 163,315 161,330 153,326 149,315" fill="#7ed07e"/>
<polygon points="96,249 126,255 122,258 98,254" fill="#7ed07e"/>
<polygon points="180,286 195,288 194,299 181,296" fill="#7ed07e"/>
<polygon points="214,449 268,452 262,462 220,460" fill="#7ed07e" opacity="0.8"/>
<polygon points="306,456 337,458 334,466 308,464" fill="#7ed07e" opacity="0.8"/>
<polygon points="337,489 367,490 364,499 340,497" fill="#7ed07e" opacity="0.8"/>
<polygon points="444,522 486,520 486,538 450,536" fill="#7ed07e" opacity="0.8"/>
<polyline points="26.8,233.2 36.4,289 57.4,335.7 107.2,345.7 130.1,382.3 153.1,409 179.9,442.3 206.7,475.7 229.6,509 244.9,548.3" fill="none" stroke="#000" stroke-width="1.1"/>
<polyline points="50,290 60,310 58,330" fill="none" stroke="#000" stroke-width="1"/>
<polyline points="130,300 140,340 150,380" fill="none" stroke="#000" stroke-width="1"/>
</g>
<text x="0" y="0" font-size="21" text-anchor="middle" transform="translate(300.4,328)">210</text>
<text x="0" y="0" font-size="21" text-anchor="middle" transform="translate(301.4,432) rotate(20)">235</text>
<use href="#grid" xlink:href="#grid"/>
<use href="#swath" xlink:href="#swath"/>
<use href="#nz" xlink:href="#nz"/>
<use href="#cross" xlink:href="#cross"/>
<g font-size="12.5"><text x="229" y="115.7">-26</text><text x="229" y="200.3">-28</text><text x="229" y="284.9">-30</text><text x="229" y="369.8">-32</text><text x="229" y="454.4">-34</text><text x="229" y="539">-36</text></g>
<g font-size="12.5" text-anchor="middle"><text x="60.1" y="306">170</text><text x="138.9" y="306">172</text><text x="217.8" y="306">174</text><text x="296.6" y="306">176</text><text x="375.4" y="306">178</text><text x="454.3" y="306">180</text></g>
<text x="37" y="66" font-size="25">VIRS T<tspan font-size="16" dy="5">B11</tspan><tspan dy="-5"> (K)</tspan></text>
<text x="474" y="525" font-size="28" text-anchor="end">(g)</text>
<use href="#cbA" xlink:href="#cbA"/>
<g font-size="19"><text x="511.5" y="100.5">196</text><text x="511.5" y="151.2">208</text><text x="511.5" y="201.9">220</text><text x="511.5" y="252.7">232</text><text x="511.5" y="303.4">244</text><text x="511.5" y="354.1">256</text><text x="511.5" y="404.8">268</text><text x="511.5" y="455.5">280</text><text x="511.5" y="506.3">292</text><text x="511.5" y="557">304</text></g>
</g>

<!-- ================= PANEL H ================= -->
<g transform="translate(590.5,1181)">
<polygon points="307.8,405 486.2,428.3 486.2,435.7 466.2,437.3 446.2,440.7 422.8,439 399.5,437.3 366.2,432.3 349.5,425.7 332.8,419 319.5,412.3 309.5,407.3" fill="#1414f2"/>
<polygon points="325,414 340,416 345,418 330,418" fill="#fff"/>
<g fill="#1a1aff"><rect x="209.5" y="390.7" width="8" height="5"/><rect x="213" y="395" width="6" height="5"/><rect x="220" y="392" width="20" height="3.5"/><rect x="228" y="398" width="8" height="3"/><rect x="237" y="401" width="3" height="3"/><rect x="245" y="402" width="3" height="3"/><rect x="15" y="425" width="2.5" height="2.5"/><rect x="39.5" y="441" width="2.5" height="2.5"/><rect x="272" y="416.5" width="3" height="3"/><rect x="285.5" y="424.5" width="3" height="2.5"/><rect x="312" y="420.5" width="2.5" height="2.5"/><rect x="328" y="420" width="2.5" height="2.5"/><rect x="330" y="425" width="2.5" height="2.5"/><rect x="341" y="427.5" width="2.5" height="2.5"/><rect x="358" y="431" width="2.5" height="2.5"/><rect x="364" y="446" width="2.5" height="2.5"/><rect x="436" y="443.5" width="2.5" height="2.5"/><rect x="451" y="445" width="2.5" height="2.5"/><rect x="461" y="440" width="2.5" height="2.5"/><rect x="468" y="445" width="2.5" height="2.5"/><rect x="476" y="440" width="2.5" height="2.5"/><rect x="432.5" y="472.5" width="2.5" height="2.5"/><rect x="426" y="487" width="2.5" height="2.5"/><rect x="297.5" y="485.5" width="2.5" height="2.5"/><rect x="303" y="486.5" width="2.5" height="2.5"/><rect x="317.5" y="488.5" width="2.5" height="2.5"/><rect x="330" y="484.5" width="2.5" height="2.5"/><rect x="338" y="484.5" width="4" height="4"/><rect x="344" y="485" width="3" height="3"/><rect x="345.5" y="496.5" width="2.5" height="2.5"/><rect x="282.5" y="493.5" width="2.5" height="2.5"/></g>
<g fill="#ff5020"><rect x="215" y="394" width="2.5" height="2.5"/><rect x="223" y="401" width="2.5" height="2.5"/><rect x="355" y="448.5" width="2" height="2"/><rect x="368.5" y="451" width="2" height="2"/><rect x="372" y="455" width="2" height="2"/><rect x="363" y="454" width="2" height="2"/><rect x="379.5" y="452.5" width="2" height="2"/><rect x="260" y="486" width="2" height="2"/><rect x="332.5" y="481" width="2" height="2"/></g>
<use href="#grid" xlink:href="#grid"/>
<use href="#swath" xlink:href="#swath"/>
<use href="#nz" xlink:href="#nz"/>
<use href="#cross" xlink:href="#cross"/>
<g font-size="12.5"><text x="229" y="115.7">-26</text><text x="229" y="200.3">-28</text><text x="229" y="284.9">-30</text><text x="229" y="369.8">-32</text><text x="229" y="454.4">-34</text><text x="229" y="539">-36</text></g>
<g font-size="12.5" text-anchor="middle"><text x="60.1" y="306">170</text><text x="138.9" y="306">172</text><text x="217.8" y="306">174</text><text x="296.6" y="306">176</text><text x="375.4" y="306">178</text><text x="454.3" y="306">180</text></g>
<text x="35" y="66" font-size="25">2A23 rain types</text>
<text x="474" y="525" font-size="28" text-anchor="end">(h)</text>
<rect x="494.7" y="41.5" width="10" height="168.3" fill="#ff4500"/>
<rect x="494.7" y="209.8" width="10" height="159.9" fill="#0000ff"/>
<rect x="494.7" y="41.5" width="10" height="506.3" fill="none" stroke="#888" stroke-width="1"/>
<g font-size="19"><text x="506.5" y="49">Conv</text><text x="506.5" y="218">Strat</text><text x="506.5" y="378.5">N/A</text></g>
</g>

<!-- ================= PANEL I ================= -->
<g transform="translate(1181,1181)">
<polygon points="307.6,405.2 464.6,426.3 485.6,428.2 485.6,435.8 468.4,437.7 449.2,441.6 430.1,439.7 391.8,437.7 357.4,432 334.4,420.5 318,411" fill="#84dc84"/>
<polygon points="372,430 400,432 420,436 440,438 449,441.6 430,439.7 392,437.7 375,434" fill="#a0a0a0" opacity="0.85"/>
<polygon points="462,426 485.6,428.2 485.6,435.8 470,437.7 460,434" fill="#a0a0a0"/>
<g fill="#a0a0a0"><rect x="350" y="424" width="4" height="3"/><rect x="380" y="424" width="5" height="4"/><rect x="400" y="428" width="5" height="3"/><rect x="420" y="430" width="4" height="3"/><rect x="440" y="432" width="5" height="4"/></g>
<g fill="#c4c4c4"><rect x="208" y="388" width="8" height="6"/><rect x="214" y="393" width="10" height="5"/><rect x="226" y="396" width="6" height="4"/><rect x="238" y="398" width="10" height="4"/><rect x="250" y="401" width="6" height="3"/><rect x="290" y="486" width="3" height="3"/><rect x="312" y="485" width="3" height="3"/><rect x="325" y="484" width="4" height="3"/><rect x="335" y="486" width="5" height="3"/><rect x="405" y="478" width="3" height="3"/></g>
<g fill="#a8c8ff"><rect x="273" y="417" width="2.5" height="2.5"/><rect x="280" y="422" width="2.5" height="2.5"/><rect x="286" y="426" width="2.5" height="2.5"/><rect x="300" y="420" width="2.5" height="2.5"/><rect x="360" y="446" width="2.5" height="2.5"/></g>
<g fill="#5cc05c"><rect x="269" y="408" width="2.5" height="2.5"/><rect x="304" y="424" width="2.5" height="2.5"/><rect x="310" y="431" width="2.5" height="2.5"/><rect x="478" y="439" width="2.5" height="2.5"/></g>
<rect x="15" y="424.5" width="2.5" height="2" fill="#ff5020"/>
<rect x="39" y="441" width="2.5" height="2" fill="#ff5020"/>
<use href="#grid" xlink:href="#grid"/>
<use href="#swath" xlink:href="#swath"/>
<use href="#nz" xlink:href="#nz"/>
<use href="#cross" xlink:href="#cross"/>
<g font-size="12.5"><text x="229" y="115.7">-26</text><text x="229" y="200.3">-28</text><text x="229" y="284.9">-30</text><text x="229" y="369.8">-32</text><text x="229" y="454.4">-34</text><text x="229" y="539">-36</text></g>
<g font-size="12.5" text-anchor="middle"><text x="60.1" y="306">170</text><text x="138.9" y="306">172</text><text x="217.8" y="306">174</text><text x="296.6" y="306">176</text><text x="375.4" y="306">178</text><text x="454.3" y="306">180</text></g>
<text x="35" y="66" font-size="25">2A23 storm height (km)</text>
<text x="470" y="525" font-size="28" text-anchor="end">(i)</text>
<use href="#cbA" xlink:href="#cbA"/>
<g font-size="19"><text x="511.5" y="100.5">18.0</text><text x="511.5" y="151.2">16.0</text><text x="511.5" y="201.9">14.0</text><text x="511.5" y="252.7">12.0</text><text x="511.5" y="303.4">10.0</text><text x="511.5" y="354.1">8.0</text><text x="511.5" y="404.8">6.0</text><text x="511.5" y="455.5">4.0</text><text x="511.5" y="506.3">2.0</text><text x="511.5" y="557">0.0</text></g>
</g>
</svg>
</body></html>
